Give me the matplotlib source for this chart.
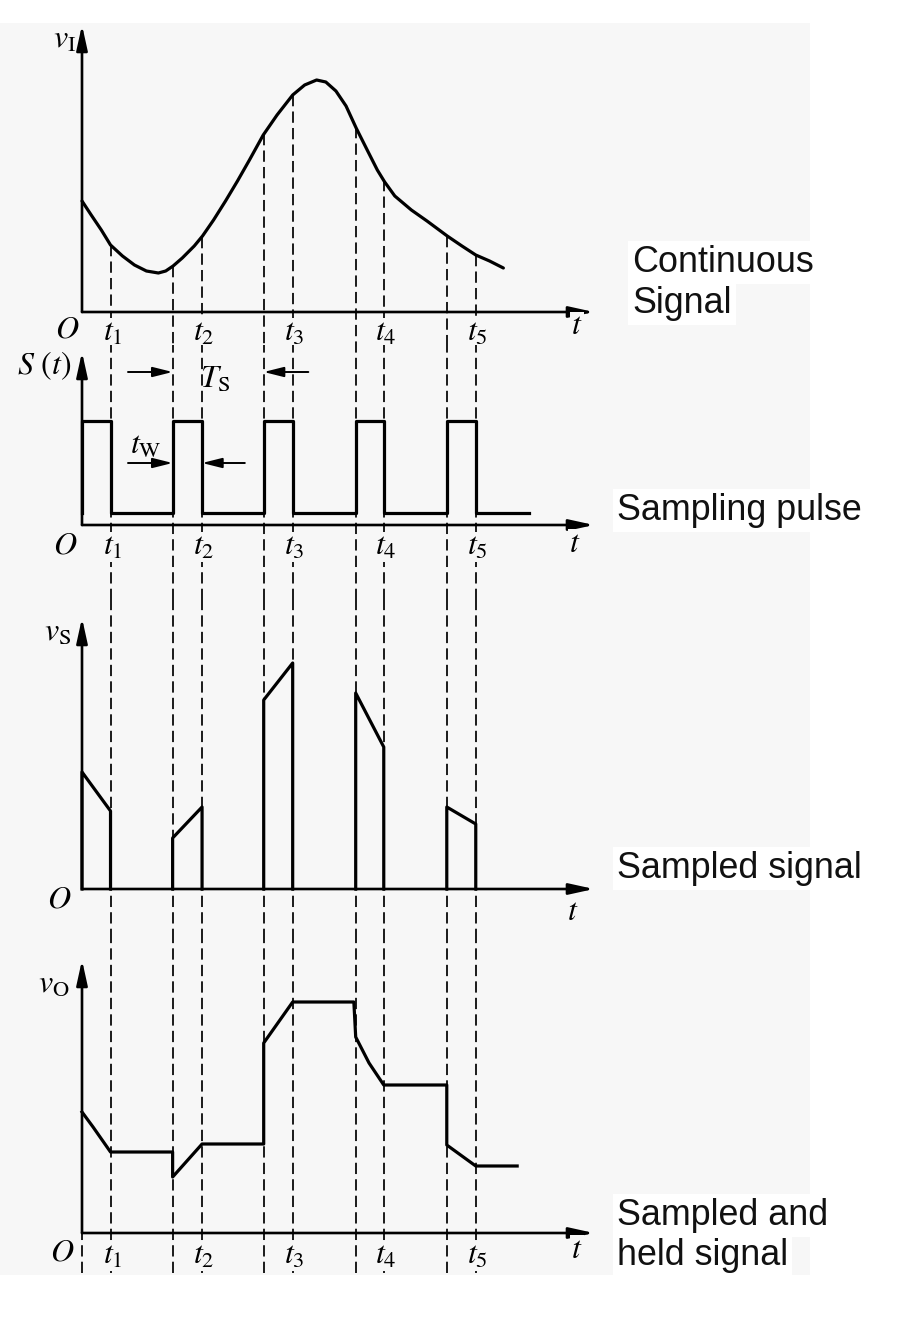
import numpy as np
import matplotlib
matplotlib.use("Agg")
import matplotlib.pyplot as plt
from matplotlib.patches import Rectangle

plt.rcParams['mathtext.fontset'] = 'stix'
plt.rcParams['font.family'] = ['Liberation Serif', 'DejaVu Serif']

# ---------------- data (time in sampling periods, amplitude arbitrary) ----------------
curve_t = [0.00, 0.10, 0.21, 0.31, 0.44, 0.57, 0.70, 0.83, 0.91, 0.99, 1.09, 1.22,
           1.31, 1.43, 1.56, 1.69, 1.82, 1.97, 2.12, 2.29, 2.42, 2.55, 2.65, 2.76,
           2.87, 2.98, 3.10, 3.21, 3.29, 3.40, 3.58, 3.75, 3.97, 4.13, 4.28, 4.43, 4.58]
curve_v = [1.11, 0.97, 0.82, 0.67, 0.56, 0.47, 0.41, 0.39, 0.41, 0.46, 0.54, 0.66,
           0.76, 0.92, 1.11, 1.31, 1.52, 1.77, 1.97, 2.17, 2.27, 2.32, 2.30, 2.21,
           2.06, 1.84, 1.62, 1.42, 1.30, 1.16, 1.02, 0.91, 0.76, 0.66, 0.57, 0.51, 0.44]

sample_start = [0.0, 0.985, 1.975, 2.975, 3.965]
sample_end = [0.31, 1.305, 2.29, 3.28, 4.28]
t_labels = [r'$t_1$', r'$t_2$', r'$t_3$', r'$t_4$', r'$t_5$']

pulse_high = 1.04
pulse_low = 0.12
pulse_stop = 4.86

vs_start = [1.17, 0.51, 1.89, 1.96, 0.82]
vs_end = [0.78, 0.82, 2.26, 1.42, 0.65]

vo_t = [0.00, 0.12, 0.31, 0.985, 0.985, 1.305, 1.975, 1.975, 2.29, 2.955,
        2.975, 3.12, 3.28, 3.965, 3.965, 4.28, 4.73]
vo_v = [1.21, 1.06, 0.81, 0.81, 0.56, 0.89, 0.89, 1.90, 2.31, 2.31,
        1.96, 1.70, 1.48, 1.48, 0.88, 0.67, 0.67]

panel_labels = [r'$v_{\mathrm{I}}$', r'$S\ (t)$', r'$v_{\mathrm{S}}$', r'$v_{\mathrm{O}}$']
annotations = [['Continuous', 'Signal'], ['Sampling pulse'], ['Sampled signal'],
               ['Sampled and', 'held signal']]

# ---------------- layout ----------------
W, H = 903, 1319
fig = plt.figure(figsize=(W / 100, H / 100), dpi=100)
fig.patch.set_facecolor('white')
BG = '#f7f7f7'
fig.patches.append(Rectangle((0, 1 - 1275 / H), 810 / W, (1275 - 23) / H,
                             transform=fig.transFigure, fc=BG, ec='none', zorder=-5))

# (top px, bottom px, baseline px)
bands = [(0, 345, 312), (345, 600, 525), (600, 940, 889), (940, 1319, 1233)]
axis_tip = [2.87, 1.73, 2.71, 2.73]
xaxis_end = 5.565
label_pos = [(-0.065, 2.72), (-0.12, 1.59), (-0.12, 2.56), (-0.13, 2.48)]
O_pos = [(-0.16, -0.18), (-0.18, -0.21), (-0.25, -0.11), (-0.21, -0.20)]
tk_y = [-0.21, -0.22, None, -0.23]
t_end = [(5.38, -0.15), (5.36, -0.19), (5.33, -0.23), (5.38, -0.17)]

LW = 2.3
AX_LW = 1.9
FS = 23
DASH = dict(color='black', lw=1.25, dashes=(6.5, 3.0), zorder=1)
lab_kw = dict(fontsize=FS, color='black', va='center', ha='center',
              bbox=dict(boxstyle='square,pad=0.03', fc=BG, ec='none'), zorder=4)

axes = []
for i, (top, bot, base) in enumerate(bands):
    ax = fig.add_axes([0, 1 - bot / H, 1, (bot - top) / H])
    ax.set_xlim(-82 / 92, (W - 82) / 92)
    ax.set_ylim(-(bot - base) / 100, (base - top) / 100)
    ax.axis('off')
    ax.patch.set_alpha(0)
    ax.set_zorder(1)
    # axes with arrows
    ax.annotate('', xy=(xaxis_end, 0), xytext=(0, 0),
                arrowprops=dict(arrowstyle='-|>,head_length=1.0,head_width=0.22',
                                lw=AX_LW, color='black', shrinkA=0, shrinkB=0,
                                mutation_scale=15), zorder=3)
    ax.annotate('', xy=(0, axis_tip[i]), xytext=(0, 0),
                arrowprops=dict(arrowstyle='-|>,head_length=1.0,head_width=0.22',
                                lw=AX_LW, color='black', shrinkA=0, shrinkB=0,
                                mutation_scale=15), zorder=3)
    ax.text(label_pos[i][0], label_pos[i][1], panel_labels[i], fontsize=FS,
            ha='right', va='center', zorder=4)
    ax.text(O_pos[i][0], O_pos[i][1], r'$O$', **lab_kw)
    ax.text(t_end[i][0], t_end[i][1], r'$t$', **lab_kw)
    if tk_y[i] is not None:
        for x, lab in zip(sample_end, t_labels):
            ax.text(x + 0.02, tk_y[i], lab, **lab_kw)
    axes.append(ax)

dash_x = sorted(sample_start[1:] + sample_end)

# Panel 1: continuous signal
ax = axes[0]
ax.plot(curve_t, curve_v, color='black', lw=LW, zorder=2,
        solid_joinstyle='round', solid_capstyle='round')
ylo = ax.get_ylim()[0]
for x in dash_x:
    ax.plot([x, x], [np.interp(x, curve_t, curve_v), ylo], **DASH)

# Panel 2: sampling pulse
ax = axes[1]
px, py = [], []
for s, e in zip(sample_start, sample_end):
    px += [s, s, e, e]
    py += [pulse_low, pulse_high, pulse_high, pulse_low]
px.append(pulse_stop)
py.append(pulse_low)
ax.plot(px, py, color='black', lw=LW, zorder=2)
ylo, yhi = ax.get_ylim()
for x in dash_x:
    ax.plot([x, x], [ylo, yhi], **DASH)
arr = dict(arrowstyle='-|>,head_length=1.0,head_width=0.25', lw=1.4, color='black',
           shrinkA=0, shrinkB=0, mutation_scale=12)
ax.annotate('', xy=(sample_start[1], 1.53), xytext=(0.50, 1.53), arrowprops=arr, zorder=3)
ax.annotate('', xy=(sample_start[2], 1.53), xytext=(2.46, 1.53), arrowprops=arr, zorder=3)
ax.annotate('', xy=(sample_start[1], 0.62), xytext=(0.50, 0.62), arrowprops=arr, zorder=3)
ax.annotate('', xy=(sample_end[1], 0.62), xytext=(1.77, 0.62), arrowprops=arr, zorder=3)
ax.text(1.45, 1.45, r'$T_{\mathrm{S}}$', fontsize=FS, ha='center', va='center', zorder=4)
ax.text(0.69, 0.79, r'$t_{\mathrm{W}}$', fontsize=FS, ha='center', va='center', zorder=4)

# Panel 3: sampled signal
ax = axes[2]
for s, e, a, b in zip(sample_start, sample_end, vs_start, vs_end):
    ax.plot([s, s, e, e], [0, a, b, 0], color='black', lw=LW, zorder=2)
ylo, yhi = ax.get_ylim()
for x in dash_x:
    ax.plot([x, x], [ylo, yhi], **DASH)

# Panel 4: sampled and held signal
ax = axes[3]
ax.plot(vo_t, vo_v, color='black', lw=LW, zorder=2)
ylo, yhi = ax.get_ylim()
for x in dash_x:
    ax.plot([x, x], [-0.40, yhi], **DASH)
ax.plot([0, 0], [-0.40, 0], **DASH)

# Right-hand annotations (baseline positions in px)
ann_pos = [[(632, 272), (632, 313)], [(617, 520)], [(617, 878)], [(617, 1225), (617, 1265)]]
for lines, poss in zip(annotations, ann_pos):
    for txt, (xp, yp) in zip(lines, poss):
        fig.text(xp / W, 1 - yp / H, txt, fontsize=25.8, family='Liberation Sans',
                 ha='left', va='baseline', color='#111111', zorder=5,
                 bbox=dict(boxstyle='square,pad=0.12', fc='white', ec='none'))

fig.savefig('out.png', dpi=100, facecolor='white')
